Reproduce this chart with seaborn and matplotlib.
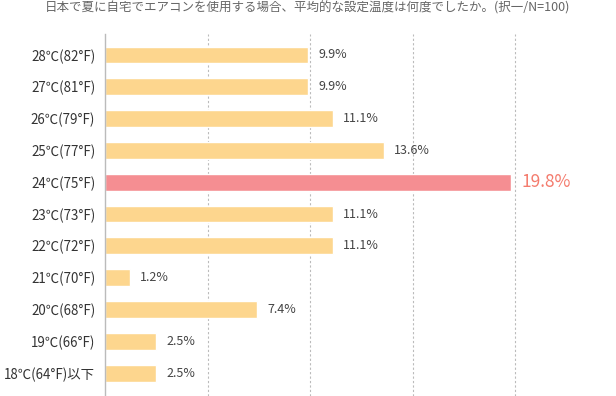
import matplotlib
matplotlib.use("Agg")
import matplotlib.pyplot as plt
import seaborn as sns
import pandas as pd

categories = ["28℃(82°F)", "27℃(81°F)", "26℃(79°F)", "25℃(77°F)", "24℃(75°F)",
              "23℃(73°F)", "22℃(72°F)", "21℃(70°F)", "20℃(68°F)", "19℃(66°F)",
              "18℃(64°F)以下"]
values = [9.9, 9.9, 11.1, 13.6, 19.8, 11.1, 11.1, 1.2, 7.4, 2.5, 2.5]
highlight = "24℃(75°F)"
title = "日本で夏に自宅でエアコンを使用する場合、平均的な設定温度は何度でしたか。(択一/N=100)"

sns.set_theme(style="white")
plt.rcParams['font.family'] = ['Noto Sans CJK JP', 'DejaVu Sans']

df = pd.DataFrame({"cat": categories, "val": values})
df["grp"] = ["hi" if c == highlight else "lo" for c in categories]

fig = plt.figure(figsize=(6.16, 3.96), dpi=100)
ax = fig.add_axes([105/616, 0, 511/616, 362/396])

sns.barplot(data=df, x="val", y="cat", hue="grp", palette={"hi": "#F58E92", "lo": "#FDD68E"},
            order=categories, orient="h", width=0.53, legend=False, ax=ax, saturation=1)

ax.set_xlim(0, 24.9)
ax.set_ylim(10.72, -0.66)
ax.set_xlabel("")
ax.set_ylabel("")
ax.set_xticks([5, 10, 15, 20])
ax.xaxis.grid(True, linestyle=(0, (2, 2)), color="#BBBBBB", linewidth=0.8)
ax.set_axisbelow(True)
ax.tick_params(axis="x", bottom=False, labelbottom=False)
ax.tick_params(axis="y", left=False, pad=1, labelsize=9.6, labelcolor="#333333")
for s in ["top", "right", "bottom"]:
    ax.spines[s].set_visible(False)
ax.spines["left"].set_color("#BBBBBB")
ax.spines["left"].set_linewidth(1)

for i, (c, v) in enumerate(zip(categories, values)):
    if c == highlight:
        ax.text(v + 0.5, i, f"{v}%", va="center", ha="left", fontsize=12.5, color="#F47C6E")
    else:
        ax.text(v + 0.5, i, f"{v}%", va="center", ha="left", fontsize=9, color="#444444")

fig.text(308/616, 1 - 8/396, title, ha="center", va="center", fontsize=9, color="#666666")

fig.savefig("out.png", dpi=100)
